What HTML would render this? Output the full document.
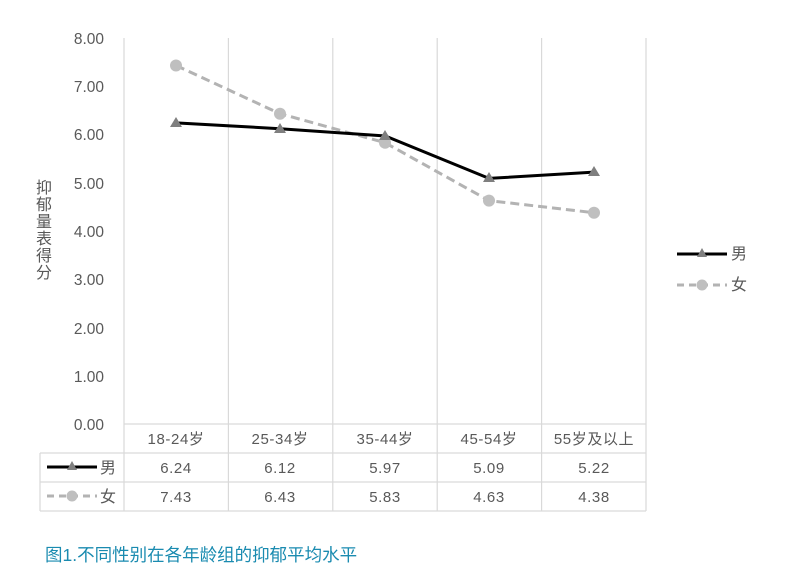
<!DOCTYPE html>
<html><head><meta charset="utf-8"><style>
html,body{margin:0;padding:0;background:#fff;}
svg{display:block;font-family:"Liberation Sans","Noto Sans CJK SC",sans-serif;}
</style></head><body>
<svg width="795" height="575" viewBox="0 0 795 575" xmlns="http://www.w3.org/2000/svg">
<g stroke="#d9d9d9" stroke-width="1.2" fill="none">
<line x1="124" y1="38" x2="124" y2="511"/>
<line x1="228.4" y1="38" x2="228.4" y2="511"/>
<line x1="332.8" y1="38" x2="332.8" y2="511"/>
<line x1="437.2" y1="38" x2="437.2" y2="511"/>
<line x1="541.6" y1="38" x2="541.6" y2="511"/>
<line x1="646" y1="38" x2="646" y2="511"/>
<line x1="124" y1="424" x2="646" y2="424"/>
<line x1="40" y1="453" x2="646" y2="453"/>
<line x1="40" y1="482" x2="646" y2="482"/>
<line x1="40" y1="511" x2="646" y2="511"/>
<line x1="40" y1="453" x2="40" y2="511"/>
</g>
<g fill="#595959" font-size="15.5" text-anchor="end">
<text x="104" y="44">8.00</text>
<text x="104" y="92">7.00</text>
<text x="104" y="140">6.00</text>
<text x="104" y="189">5.00</text>
<text x="104" y="237">4.00</text>
<text x="104" y="285">3.00</text>
<text x="104" y="334">2.00</text>
<text x="104" y="382">1.00</text>
<text x="104" y="430">0.00</text>
</g>
<g fill="#595959" font-size="16" text-anchor="middle">
<text x="44" y="193">抑</text><text x="44" y="210">郁</text><text x="44" y="227">量</text><text x="44" y="244">表</text><text x="44" y="261">得</text><text x="44" y="278">分</text>
</g>
<g fill="#595959" font-size="15" text-anchor="middle" letter-spacing="0.6">
<text x="176" y="444">18-24岁</text><text x="280" y="444">25-34岁</text><text x="385" y="444">35-44岁</text><text x="489" y="444">45-54岁</text><text x="594" y="444">55岁及以上</text>
<text x="176" y="473">6.24</text><text x="280" y="473">6.12</text><text x="385" y="473">5.97</text><text x="489" y="473">5.09</text><text x="594" y="473">5.22</text>
<text x="176" y="502">7.43</text><text x="280" y="502">6.43</text><text x="385" y="502">5.83</text><text x="489" y="502">4.63</text><text x="594" y="502">4.38</text>
</g>
<polyline points="176,65.5 280,113.7 385,142.7 489,200.6 594,212.7" fill="none" stroke="#b3b3b3" stroke-width="3" stroke-dasharray="9,5"/>
<g fill="#bfbfbf"><circle cx="176" cy="65.5" r="6"/><circle cx="280" cy="113.7" r="6"/><circle cx="385" cy="142.7" r="6"/><circle cx="489" cy="200.6" r="6"/><circle cx="594" cy="212.7" r="6"/></g>
<polyline points="176,122.9 280,128.7 385,135.9 489,178.4 594,172.1" fill="none" stroke="#000" stroke-width="3"/>
<g fill="#7f7f7f">
<path d="M176,117 l6,10 h-12z"/><path d="M280,123 l6,10 h-12z"/><path d="M385,130 l6,10 h-12z"/><path d="M489,172 l6,10 h-12z"/><path d="M594,166 l6,10 h-12z"/>
</g>
<line x1="677" y1="254" x2="727" y2="254" stroke="#000" stroke-width="3"/>
<path d="M702,248 l5,9 h-10z" fill="#7f7f7f"/>
<text x="731" y="259" fill="#595959" font-size="16">男</text>
<line x1="677" y1="285" x2="727" y2="285" stroke="#b3b3b3" stroke-width="3" stroke-dasharray="7,5"/>
<circle cx="702" cy="285" r="5.5" fill="#bfbfbf"/>
<text x="731" y="290" fill="#595959" font-size="16">女</text>
<line x1="47" y1="467" x2="97" y2="467" stroke="#000" stroke-width="3"/>
<path d="M72,461 l5,9 h-10z" fill="#7f7f7f"/>
<text x="100" y="473" fill="#595959" font-size="16">男</text>
<line x1="47" y1="496" x2="97" y2="496" stroke="#b3b3b3" stroke-width="3" stroke-dasharray="7,5"/>
<circle cx="72" cy="496" r="5.5" fill="#bfbfbf"/>
<text x="100" y="502" fill="#595959" font-size="16">女</text>
<text x="45" y="561" fill="#1a8bb0" font-size="17.5">图1.不同性别在各年龄组的抑郁平均水平</text>
</svg>
</body></html>
